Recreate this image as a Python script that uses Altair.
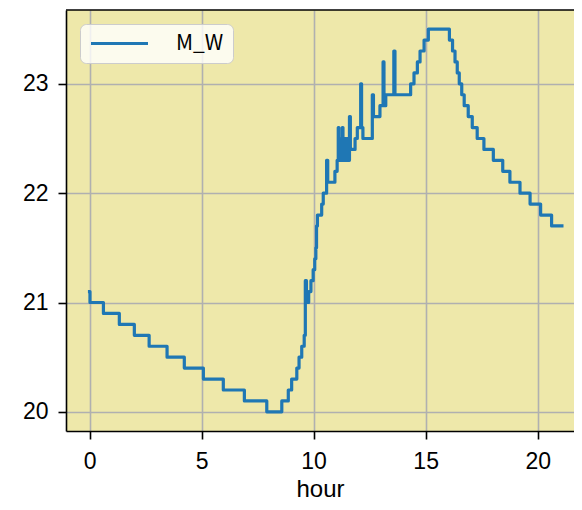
import altair as alt
import pandas as pd

hours = [0.00, 0.02, 0.62, 1.33, 2.00, 2.66, 3.46, 4.23, 5.08, 5.97, 6.91, 7.91,
         8.58, 8.87, 9.02, 9.25, 9.35, 9.47, 9.58, 9.63, 9.68, 9.78, 9.88, 9.98,
         10.05, 10.10, 10.13, 10.17, 10.36, 10.43, 10.58, 10.63, 10.95, 11.05,
         11.10, 11.13, 11.16, 11.19, 11.22, 11.25, 11.28, 11.31, 11.34, 11.37,
         11.40, 11.43, 11.47, 11.51, 11.55, 11.60, 11.64, 11.85, 11.95, 12.10,
         12.14, 12.20, 12.62, 12.67, 12.96, 13.10, 13.14, 13.22, 13.58, 13.63,
         14.33, 14.48, 14.63, 14.75, 14.93, 15.12, 16.06, 16.20, 16.31, 16.41,
         16.50, 16.61, 16.72, 16.90, 17.08, 17.30, 17.60, 18.02, 18.44, 18.76,
         19.21, 19.66, 20.13, 20.62, 21.08]
temps = [21.1, 21.0, 20.9, 20.8, 20.7, 20.6, 20.5, 20.4, 20.3, 20.2, 20.1, 20.0,
         20.1, 20.2, 20.3, 20.4, 20.5, 20.6, 20.7, 21.2, 21.0, 21.1, 21.2, 21.3,
         21.4, 21.5, 21.7, 21.8, 21.9, 22.0, 22.3, 22.1, 22.2, 22.3,
         22.6, 22.4, 22.5, 22.3, 22.5, 22.4, 22.6, 22.3, 22.5, 22.4,
         22.5, 22.3, 22.5, 22.4, 22.3, 22.7, 22.4, 22.5, 22.6, 23.0,
         22.6, 22.5, 22.9, 22.7, 22.8, 23.2, 22.8, 22.9, 23.3, 22.9,
         23.0, 23.1, 23.2, 23.3, 23.4, 23.5, 23.4, 23.3, 23.2, 23.1,
         23.0, 22.9, 22.8, 22.7, 22.6, 22.5, 22.4, 22.3, 22.2, 22.1,
         22.0, 21.9, 21.8, 21.7, 21.7]
series_name = "M_W"
x_ticks = [0, 5, 10, 15, 20]
y_ticks = [20, 21, 22, 23]

df = pd.DataFrame({"hour": hours, "temp": temps, "series": [series_name] * len(hours)})

AXIS_FONT = "Liberation Sans"
LEGEND_FONT = "Noto Sans CJK JP"
W, H = 508, 421

line = alt.Chart(df).mark_line(
    interpolate="step-after", strokeWidth=3.2, strokeCap="square", strokeJoin="round"
).encode(
    x=alt.X("hour:Q",
            scale=alt.Scale(domain=[-1.05, 21.62], nice=False, zero=False),
            axis=alt.Axis(values=x_ticks, title="hour", format="d",
                          tickSize=8, tickWidth=1.6, tickColor="black",
                          domainColor="black", domainWidth=1.6,
                          labelFont=AXIS_FONT, labelFontSize=23, labelColor="black",
                          labelPadding=11,
                          grid=True, gridColor="#b0b0b0", gridWidth=1.6,
                          titleFont=AXIS_FONT, titleFontSize=24, titleFontWeight="normal",
                          titleColor="black", titlePadding=4)),
    y=alt.Y("temp:Q",
            scale=alt.Scale(domain=[19.825, 23.675], nice=False, zero=False),
            axis=alt.Axis(values=y_ticks, title="", format="d",
                          tickSize=8, tickWidth=1.6, tickColor="black",
                          domainColor="black", domainWidth=1.6,
                          labelFont=AXIS_FONT, labelFontSize=23, labelColor="black",
                          labelPadding=10,
                          grid=True, gridColor="#b0b0b0", gridWidth=1.6)),
    color=alt.Color("series:N",
                    scale=alt.Scale(domain=[series_name], range=["#1f77b4"]),
                    legend=alt.Legend(title="", orient="none", legendX=14, legendY=14,
                                      symbolType="M-4,0H4", symbolSize=203,
                                      symbolStrokeWidth=3, symbolOffset=20,
                                      labelFont=LEGEND_FONT, labelFontSize=21,
                                      labelColor="black", labelOffset=46,
                                      padding=9, fillColor="rgba(255,255,255,0.8)",
                                      strokeColor="#cccccc", cornerRadius=6)),
)

top_spine = alt.Chart(pd.DataFrame({"s": [0]})).mark_rule(
    color="black", strokeWidth=1.6
).encode(x=alt.value(0), x2=alt.value(W), y=alt.value(0))

chart = alt.layer(line, top_spine).properties(
    width=W, height=H,
    autosize=alt.AutoSizeParams(type="none"),
    padding={"left": 58, "top": 2, "right": 0, "bottom": 78},
).configure_view(fill="#eee8aa", strokeWidth=0)

chart.save("out.html", embed_options={"renderer": "svg", "actions": False})
